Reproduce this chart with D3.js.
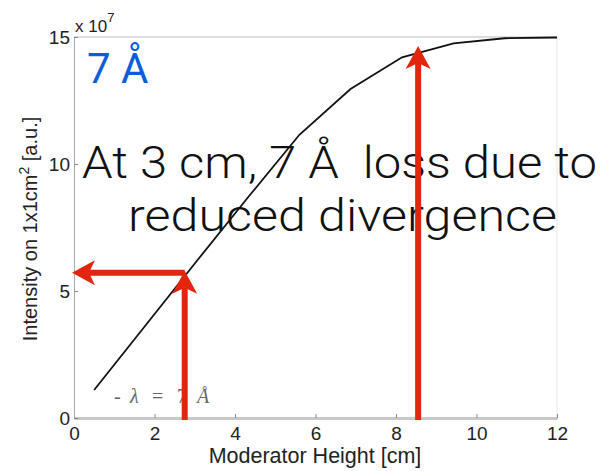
<!DOCTYPE html>
<html>
<head>
<meta charset="utf-8">
<script src="https://cdn.jsdelivr.net/npm/d3@7"></script>
<style>
  body { margin: 0; background: #fff; }
  svg { display: block; }
  .axis text { font-family: "Helvetica Neue", Helvetica, "Liberation Sans", Arial, sans-serif; font-size: 19px; fill: #222; }
  .axis line { stroke: #888; }
</style>
</head>
<body>
<svg id="chart"></svg>
<script>
const WIDTH = 605;
const HEIGHT = 471;

// moderator height [cm] vs intensity [x 1e7 a.u.]
const heights = [0.5, 1.78, 3.06, 4.33, 5.6, 6.87, 8.15, 9.43, 10.7, 12];
const intensity = [1.1, 3.65, 6.2, 8.7, 11.15, 12.95, 14.2, 14.75, 14.95, 14.98];

const xTicks = [0, 2, 4, 6, 8, 10, 12];
const yTicks = [0, 5, 10, 15];

// red arrows: vertical ones at these heights, up to these intensities
const arrowX = [2.75, 8.55];
const arrowTop = [5.8, 14.65];
// horizontal arrow pointing back to the axis
const hArrowY = 5.72;

const FONT = '"Helvetica Neue", Helvetica, "Liberation Sans", Arial, sans-serif';
const THIN = '"Helvetica Neue", Roboto, "Liberation Sans", sans-serif';
const RED = '#e2250c';

const svg = d3.select('#chart')
  .attr('width', WIDTH)
  .attr('height', HEIGHT);

const x = d3.scaleLinear().domain([0, 12]).range([74, 557]);
const y = d3.scaleLinear().domain([0, 15]).range([418, 37]);

// box top/right
svg.append('line')
  .attr('x1', x(0)).attr('x2', x(12)).attr('y1', y(15)).attr('y2', y(15))
  .attr('stroke', '#ddd').attr('stroke-width', 2);
svg.append('line')
  .attr('x1', x(12)).attr('x2', x(12)).attr('y1', y(15)).attr('y2', y(0))
  .attr('stroke', '#e6e6e6').attr('stroke-width', 1);

const xAxis = svg.append('g')
  .attr('class', 'axis')
  .attr('transform', `translate(0,${y(0)})`)
  .call(d3.axisBottom(x).tickValues(xTicks).tickSizeInner(-4).tickSizeOuter(0).tickPadding(9));
xAxis.select('.domain').attr('stroke', '#c8c8c8').attr('stroke-width', 3);

const yAxis = svg.append('g')
  .attr('class', 'axis')
  .attr('transform', `translate(${x(0)},0)`)
  .call(d3.axisLeft(y).tickValues(yTicks).tickSizeInner(-4).tickSizeOuter(0).tickPadding(4));
yAxis.select('.domain').attr('stroke', '#a8a8a8').attr('stroke-width', 1);

// exponent label
const expo = svg.append('text')
  .attr('x', 75).attr('y', 32)
  .style('font-family', FONT).style('font-size', '17px').attr('fill', '#222')
  .text('x 10');
expo.append('tspan').attr('dy', -10).style('font-size', '13px').text('7');

// axis titles
svg.append('text')
  .attr('x', 315).attr('y', 463)
  .attr('text-anchor', 'middle')
  .style('font-family', FONT).style('font-size', '21.5px').attr('fill', '#222')
  .text('Moderator Height [cm]');

const yTitle = svg.append('text')
  .attr('transform', 'translate(37,229) rotate(-90)')
  .attr('text-anchor', 'middle')
  .style('font-family', FONT).style('font-size', '20px').attr('fill', '#222');
yTitle.append('tspan').text('Intensity on 1x1cm');
yTitle.append('tspan').attr('dy', -8).style('font-size', '14px').text('2');
yTitle.append('tspan').attr('dy', 8).text(' [a.u.]');

// data line
const line = d3.line()
  .x((d, i) => x(heights[i]))
  .y(d => y(d));

svg.append('path')
  .datum(intensity)
  .attr('d', line)
  .attr('fill', 'none')
  .attr('stroke', '#111')
  .attr('stroke-width', 1.8);

// legend entry (latex-ish)
const legend = svg.append('text')
  .attr('y', 403)
  .style('font-family', '"Liberation Serif", "DejaVu Serif", serif')
  .style('font-size', '20px')
  .attr('fill', '#666');
legend.append('tspan').attr('x', 114).text('-');
legend.append('tspan').attr('x', 130).style('font-style', 'italic').text('λ');
legend.append('tspan').attr('x', 152).text('=');
legend.append('tspan').attr('x', 177).text('7');
legend.append('tspan').attr('x', 197).style('font-style', 'italic').text('Å');

// annotation texts
svg.append('text')
  .attr('x', 87).attr('y', 83)
  .style('font-family', THIN).style('font-size', '42px')
  .attr('fill', '#0b5ed7')
  .text('7 Å');

const note = svg.append('g')
  .style('font-family', THIN).style('font-weight', 300).style('font-size', '45px')
  .attr('fill', '#111');
note.append('text').attr('x', 82).attr('y', 178)
  .attr('textLength', 515).attr('lengthAdjust', 'spacingAndGlyphs')
  .text('At 3 cm, 7 Å\u00a0\u00a0loss due to');
note.append('text').attr('x', 128).attr('y', 231)
  .attr('textLength', 429).attr('lengthAdjust', 'spacingAndGlyphs')
  .text('reduced divergence');

// arrows
function arrow(x1, y1, x2, y2) {
  const ang = Math.atan2(y2 - y1, x2 - x1);
  const len = 23, half = 12.5, notch = 17;
  const ux = Math.cos(ang), uy = Math.sin(ang);
  const px = -uy, py = ux;
  const bx = x2 - ux * len, by = y2 - uy * len;
  const nx = x2 - ux * notch, ny = y2 - uy * notch;
  svg.append('line')
    .attr('x1', x1).attr('y1', y1).attr('x2', nx).attr('y2', ny)
    .attr('stroke', RED).attr('stroke-width', 6);
  svg.append('path')
    .attr('d', `M${x2},${y2}L${bx + px * half},${by + py * half}L${nx},${ny}L${bx - px * half},${by - py * half}Z`)
    .attr('fill', RED);
}

arrowX.forEach((ax, i) => arrow(x(ax), y(0) + 2, x(ax), y(arrowTop[i])));
arrow(x(arrowX[0]), y(hArrowY), x(-0.05), y(hArrowY));
</script>
</body>
</html>
